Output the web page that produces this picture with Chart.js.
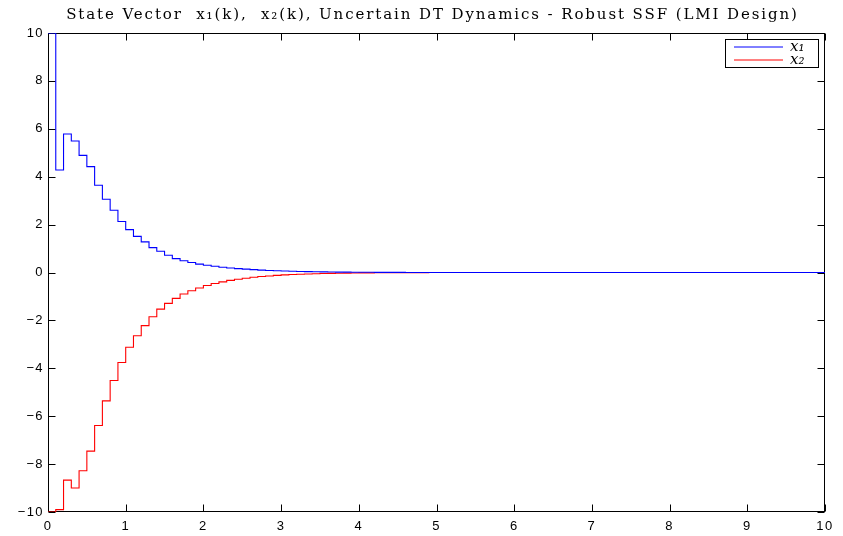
<!DOCTYPE html>
<html>
<head>
<meta charset="utf-8">
<script src="https://cdn.jsdelivr.net/npm/chart.js@4.4.1/dist/chart.umd.min.js"></script>
<style>
  html, body { margin: 0; padding: 0; background: #fff; }
  #wrap { width: 843px; height: 536px; position: relative; }
</style>
</head>
<body>
<div id="wrap"><canvas id="c" width="843" height="536"></canvas></div>
<script>
// ---- data ----
const titleText = "State Vector  x\u2081(k),  x\u2082(k), Uncertain DT Dynamics - Robust SSF (LMI Design)";
const seriesLabels = ["x\u2081", "x\u2082"];
const sampleTime = 0.1;          // sampling period of the DT system
const xTicks = [0, 1, 2, 3, 4, 5, 6, 7, 8, 9, 10];
const yTicks = [-10, -8, -6, -4, -2, 0, 2, 4, 6, 8, 10];

const x1 = [
  10, 4.28, 5.78, 5.49, 4.89, 4.42, 3.64, 3.06, 2.60, 2.13,
  1.79, 1.51, 1.28, 1.04, 0.89, 0.72, 0.58, 0.49, 0.42, 0.35,
  0.30, 0.26, 0.22, 0.19, 0.16, 0.14, 0.12, 0.10, 0.085, 0.07,
  0.06, 0.05, 0.04, 0.035, 0.03, 0.025, 0.02, 0.017, 0.014, 0.012,
  0.01, 0.008, 0.007, 0.006, 0.005, 0.004, 0.003, 0.003, 0.002, 0.002,
  0.001, 0, 0, 0, 0, 0, 0, 0, 0, 0,
  0, 0, 0, 0, 0, 0, 0, 0, 0, 0,
  0, 0, 0, 0, 0, 0, 0, 0, 0, 0,
  0, 0, 0, 0, 0, 0, 0, 0, 0, 0,
  0, 0, 0, 0, 0, 0, 0, 0, 0, 0,
  0
];
const x2 = [
  -10, -9.9, -8.67, -9.0, -8.28, -7.46, -6.39, -5.36, -4.51, -3.76,
  -3.12, -2.64, -2.22, -1.85, -1.53, -1.29, -1.08, -0.90, -0.76, -0.65,
  -0.54, -0.46, -0.39, -0.33, -0.28, -0.24, -0.20, -0.17, -0.145, -0.12,
  -0.10, -0.085, -0.07, -0.06, -0.05, -0.042, -0.035, -0.03, -0.025, -0.02,
  -0.017, -0.014, -0.012, -0.01, -0.008, -0.007, -0.006, -0.005, -0.004, -0.003,
  -0.002, -0.002, -0.001, 0, 0, 0, 0, 0, 0, 0,
  0, 0, 0, 0, 0, 0, 0, 0, 0, 0,
  0, 0, 0, 0, 0, 0, 0, 0, 0, 0,
  0, 0, 0, 0, 0, 0, 0, 0, 0, 0,
  0, 0, 0, 0, 0, 0, 0, 0, 0, 0,
  0
];

const toPoints = arr => arr.map((v, k) => ({ x: +(k * sampleTime).toFixed(2), y: v }));

// ---- style ----
const TICK_FONT = { family: "'Liberation Sans', Arial, sans-serif", size: 13 };
const TITLE_FONT = { family: "'DejaVu Serif', serif", size: 15, weight: 'normal' };
const COLORS = ['rgb(0,0,255)', 'rgb(255,0,0)'];
const TICK_SPACING = '1.4px';
const TITLE_SPACING = '1.9px';
const TITLE_SHIFT = 20;

const framePlugin = {
  id: 'frame',
  beforeDraw(chart) {
    const ctx = chart.ctx;
    const tb = chart.titleBlock;
    if (tb && !tb._patched) {
      const orig = tb.draw.bind(tb);
      tb.draw = function () {
        ctx.save();
        ctx.letterSpacing = TITLE_SPACING;
        ctx.translate(TITLE_SHIFT, 0);
        orig();
        ctx.restore();
      };
      tb._patched = true;
    }
    ctx.letterSpacing = TICK_SPACING;
  },
  beforeDatasetsDraw(chart) {
    const { ctx, chartArea: a, scales } = chart;
    ctx.letterSpacing = '0px';
    ctx.save();
    ctx.strokeStyle = '#000';
    ctx.lineWidth = 1;
    const L = Math.round(a.left) + 0.5, R = Math.round(a.right) - 0.5;
    const T = Math.round(a.top) + 0.5, B = Math.round(a.bottom) - 0.5;
    ctx.strokeRect(L, T, R - L, B - T);
    const len = 7;
    ctx.beginPath();
    xTicks.forEach(v => {
      const px = Math.round(scales.x.getPixelForValue(v)) + 0.5;
      ctx.moveTo(px, B); ctx.lineTo(px, B - len);
      ctx.moveTo(px, T); ctx.lineTo(px, T + len);
    });
    yTicks.forEach(v => {
      const py = Math.round(scales.y.getPixelForValue(v)) + 0.5;
      ctx.moveTo(L, py); ctx.lineTo(L + len, py);
      ctx.moveTo(R, py); ctx.lineTo(R - len, py);
    });
    ctx.stroke();
    ctx.restore();
  },
  afterDraw(chart) {
    const { ctx } = chart;
    ctx.save();
    ctx.letterSpacing = '0px';
    const bx = 725.5, by = 39.5, bw = 93, bh = 28;
    ctx.fillStyle = '#fff';
    ctx.fillRect(bx, by, bw, bh);
    ctx.strokeStyle = '#000';
    ctx.lineWidth = 1;
    ctx.strokeRect(bx, by, bw, bh);
    chart.data.datasets.forEach((ds, i) => {
      const y = 47 + i * 13;
      ctx.strokeStyle = COLORS[i];
      ctx.lineWidth = 1;
      ctx.beginPath();
      ctx.moveTo(734, y);
      ctx.lineTo(783, y);
      ctx.stroke();
      ctx.fillStyle = '#000';
      ctx.font = "italic 15px 'DejaVu Serif', serif";
      ctx.textBaseline = 'middle';
      ctx.textAlign = 'left';
      ctx.fillText(ds.label, 790, y);
    });
    ctx.restore();
  }
};

new Chart(document.getElementById('c'), {
  type: 'line',
  data: {
    datasets: [
      { label: seriesLabels[0], data: toPoints(x1), borderColor: COLORS[0], borderWidth: 1.1, stepped: 'before', pointRadius: 0, fill: false },
      { label: seriesLabels[1], data: toPoints(x2), borderColor: COLORS[1], borderWidth: 1.1, stepped: 'before', pointRadius: 0, fill: false }
    ]
  },
  options: {
    responsive: false,
    animation: false,
    devicePixelRatio: 1,
    layout: { padding: { left: 0, right: 18, top: 0, bottom: 0 } },
    plugins: {
      legend: { display: false },
      tooltip: { enabled: false },
      title: {
        display: true,
        text: titleText,
        color: '#000',
        font: TITLE_FONT,
        padding: { top: 6, bottom: 9 }
      }
    },
    scales: {
      x: {
        type: 'linear',
        min: 0, max: 10,
        afterBuildTicks: s => { s.ticks = xTicks.map(v => ({ value: v })); },
        afterFit: s => { s.height = 24; },
        grid: { display: false, drawTicks: false },
        border: { display: false },
        ticks: { color: '#000', font: TICK_FONT, padding: 7, maxRotation: 0, autoSkip: false }
      },
      y: {
        type: 'linear',
        min: -10, max: 10,
        afterBuildTicks: s => { s.ticks = yTicks.map(v => ({ value: v })); },
        afterFit: s => { s.width = 48; },
        grid: { display: false, drawTicks: false },
        border: { display: false },
        ticks: { color: '#000', font: TICK_FONT, padding: 4, autoSkip: false,
                 callback: v => String(v).replace('-', '\u2212') }
      }
    }
  },
  plugins: [framePlugin]
});
</script>
</body>
</html>
